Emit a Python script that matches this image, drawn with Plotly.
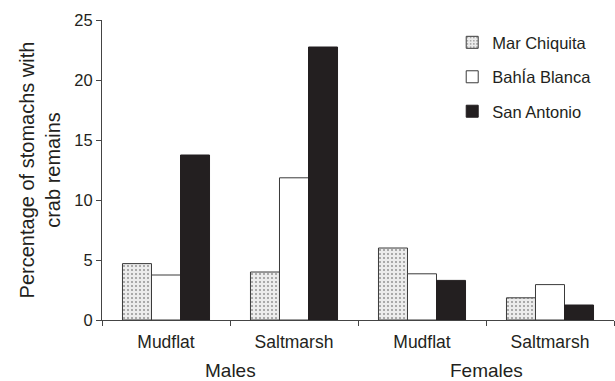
import plotly.graph_objects as go

# Habitat within each sex, left to right
habitats = ["Mudflat", "Saltmarsh", "Mudflat", "Saltmarsh"]
sexes = ["Males", "Females"]
positions = [0, 1, 2, 3]

# Percentage of stomachs with crab remains, per site
mar_chiquita = [4.7, 4.0, 6.0, 1.85]
bahia_blanca = [3.75, 11.85, 3.85, 2.95]
san_antonio = [13.75, 22.75, 3.3, 1.25]

y_ticks = [0, 5, 10, 15, 20, 25]

ink = "#231f20"
font_family = "Liberation Sans, Arial, sans-serif"

fig = go.Figure()
fig.add_trace(go.Bar(
    x=positions, y=mar_chiquita, name="Mar Chiquita",
    marker=dict(color="white", line=dict(color="#3a3a3a", width=1),
                pattern=dict(shape=".", size=4, solidity=0.22,
                             fgcolor="#444444", bgcolor="#ececec")),
    legendgroup="a",
))
fig.add_trace(go.Bar(
    x=positions, y=bahia_blanca, name="BahÍa Blanca",
    marker=dict(color="white", line=dict(color="#3a3a3a", width=1)),
    legendgroup="b",
))
fig.add_trace(go.Bar(
    x=positions, y=san_antonio, name="San Antonio",
    marker=dict(color=ink, line=dict(color=ink, width=1)),
    legendgroup="c",
))

fig.update_layout(
    width=615, height=381,
    margin=dict(l=102, r=1, t=20, b=61),
    paper_bgcolor="white", plot_bgcolor="white",
    font=dict(family=font_family, color=ink, size=16.5),
    barmode="group", bargap=0.32, bargroupgap=0,
    showlegend=True,
    legend=dict(x=0.684, y=0.983, xanchor="left", yanchor="top",
                bgcolor="rgba(0,0,0,0)", font=dict(size=16.5),
                traceorder="grouped", tracegroupgap=10, itemwidth=30),
)

fig.update_xaxes(
    range=[-0.5, 3.5],
    tickvals=positions, ticktext=habitats, ticks="",
    tickfont=dict(size=17.5), ticklabelstandoff=6,
    showline=True, linecolor="#444444", linewidth=1,
    showgrid=False, zeroline=False,
    minor=dict(tickvals=[-0.5, 0.5, 1.5, 2.5, 3.5], ticks="outside",
               ticklen=5, tickcolor="#444444", showgrid=False),
)
fig.update_yaxes(
    range=[0, 25], tickvals=y_ticks,
    ticks="outside", ticklen=5, tickcolor="#444444",
    tickfont=dict(size=16.5),
    showline=True, linecolor="#444444", linewidth=1,
    showgrid=False, zeroline=False,
    title=dict(text="Percentage of stomachs with<br>crab remains",
               font=dict(size=20), standoff=8),
)

# Sex labels centred under each pair of habitats
for label, centre in zip(sexes, [0.5, 2.5]):
    fig.add_annotation(
        x=centre, xref="x", y=0, yref="paper",
        text=label, showarrow=False, yanchor="middle",
        yshift=-50, font=dict(size=19, color=ink),
    )

fig.write_html("out.html")
